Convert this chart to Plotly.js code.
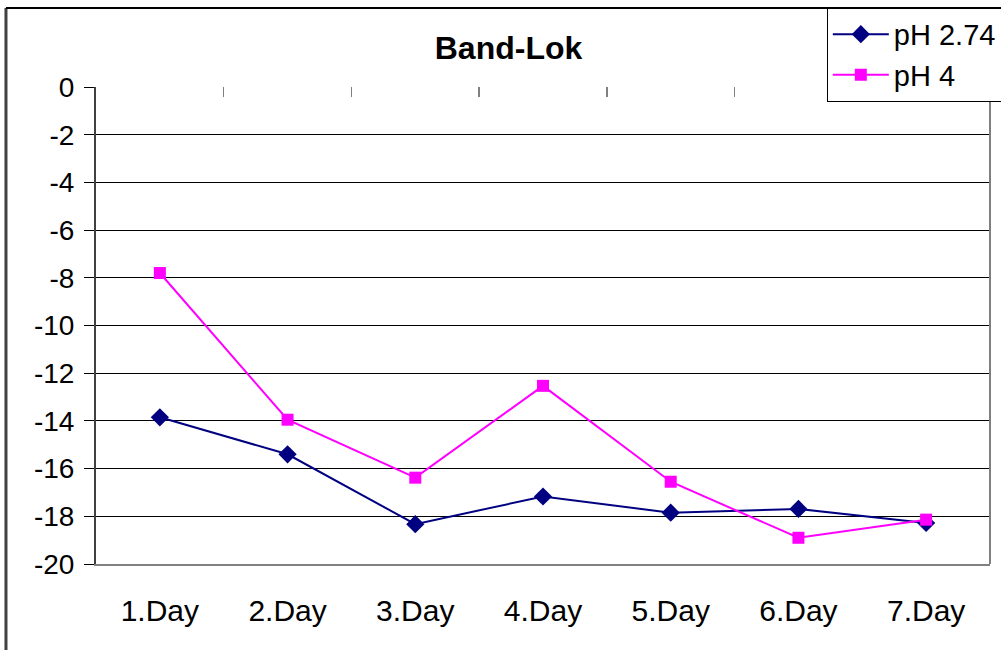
<!DOCTYPE html>
<html>
<head>
<meta charset="utf-8">
<script src="https://cdn.plot.ly/plotly-3.0.1.min.js"></script>
<style>html,body{margin:0;padding:0;background:#fff;}#chart{width:1001px;height:650px;}</style>
</head>
<body>
<div id="chart"></div>
<script>
const days = ["1.Day", "2.Day", "3.Day", "4.Day", "5.Day", "6.Day", "7.Day"];
const ph274 = [-13.85, -15.4, -18.33, -17.17, -17.85, -17.69, -18.28];
const ph4 = [-7.8, -13.95, -16.38, -12.53, -16.55, -18.9, -18.14];
const yTicks = [0, -2, -4, -6, -8, -10, -12, -14, -16, -18, -20];
const yTickLabels = yTicks.map(v => String(v));

const FONT = "Liberation Sans, Arial, sans-serif";

const traces = [
  {
    x: days, y: ph274, name: "pH 2.74", type: "scatter", mode: "lines+markers",
    xaxis: "x", yaxis: "y",
    line: {color: "#000080", width: 2},
    marker: {symbol: "diamond", size: 14, color: "#000080"}
  },
  {
    x: days, y: ph4, name: "pH 4", type: "scatter", mode: "lines+markers",
    xaxis: "x2", yaxis: "y",
    line: {color: "#FF00FF", width: 2},
    marker: {symbol: "square", size: 12, color: "#FF00FF"}
  }
];

const layout = {
  width: 1001, height: 650,
  margin: {l: 96, r: 11, t: 87, b: 86, autoexpand: false},
  paper_bgcolor: "#fff", plot_bgcolor: "#fff",
  font: {family: FONT, size: 27, color: "#000"},
  title: {
    text: "<b>Band-Lok</b>",
    font: {family: FONT, size: 32, color: "#000"},
    xref: "container", x: 0.508, xanchor: "center",
    yref: "container", y: 0.926, yanchor: "middle"
  },
  showlegend: true,
  legend: {
    xref: "container", x: 0.826, xanchor: "left",
    yref: "container", y: 0.988, yanchor: "top",
    bgcolor: "#fff", bordercolor: "#000", borderwidth: 1,
    font: {family: FONT, size: 29, color: "#000"},
    itemwidth: 56, tracegroupgap: 0
  },
  xaxis: {
    type: "category", range: [-0.5, 6.5],
    showgrid: false, zeroline: false,
    showline: true, linecolor: "#808080", linewidth: 2,
    ticks: "outside", ticklen: 19, tickcolor: "rgba(0,0,0,0)",
    tickfont: {family: FONT, size: 30, color: "#000"},
    fixedrange: true
  },
  xaxis2: {
    type: "category", overlaying: "x", side: "top", range: [-0.5, 6.5],
    tickson: "boundaries",
    showticklabels: false, showgrid: false, zeroline: false, showline: false,
    ticks: "inside", ticklen: 10, tickcolor: "#808080", tickwidth: 1.5,
    fixedrange: true
  },
  yaxis: {
    range: [-20, 0], tickmode: "array", tickvals: yTicks, ticktext: yTickLabels,
    showgrid: true, gridcolor: "#000", gridwidth: 1,
    zeroline: false,
    showline: true, linecolor: "#404040", linewidth: 2,
    ticks: "outside", ticklen: 10, tickcolor: "#000", tickwidth: 1,
    ticklabelstandoff: 4,
    tickfont: {family: FONT, size: 28, color: "#000"},
    fixedrange: true
  },
  shapes: [
    {type: "line", xref: "paper", yref: "paper", x0: 1, x1: 1, y0: 0, y1: 1,
     line: {color: "#808080", width: 2}},
    {type: "line", xref: "paper", yref: "paper", x0: -0.1007, x1: -0.1007, y0: 1.1656, y1: -0.3,
     line: {color: "#404040", width: 3}},
    {type: "line", xref: "paper", yref: "paper", x0: -0.1007, x1: 1.05, y0: 1.1656, y1: 1.1656,
     line: {color: "#000", width: 2}}
  ]
};

Plotly.newPlot("chart", traces, layout, {displayModeBar: false, staticPlot: true});
</script>
</body>
</html>
